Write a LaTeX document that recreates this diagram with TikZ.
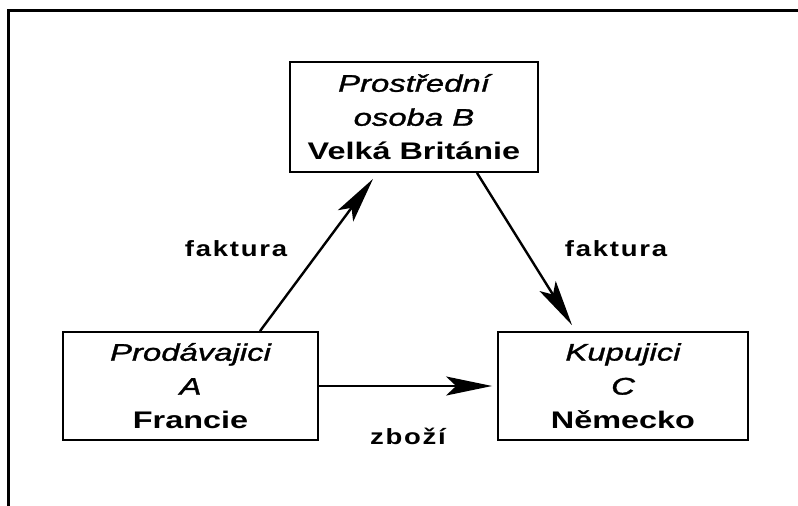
\documentclass[tikz,border=0pt]{standalone}
\usepackage{fontspec}
\usetikzlibrary{arrows.meta,positioning}
\setmainfont{Liberation Sans}
\newfontfamily\wideface[FakeStretch=1.35]{Liberation Sans}
\newfontfamily\wideslant[FakeStretch=1.37, FakeBold=1.3]{Liberation Sans Italic}
\newfontfamily\spacedface[FakeStretch=1.25, LetterSpace=8]{Liberation Sans Bold}
\tikzset{
  party/.style={draw=black, line width=1.8pt, inner sep=0pt, align=center,
    font=\wideface\fontsize{24}{34}\selectfont},
  flow/.style={draw=black, line width=2.4pt,
    -{Stealth[length=46pt, width=19pt, inset=10pt]}},
  tag/.style={font=\spacedface\fontsize{22}{26}\selectfont, inner sep=0pt},
  frameline/.style={draw=black, line width=3pt}
}
\begin{document}
\begin{tikzpicture}[x=1pt, y=-1pt]
  \useasboundingbox (0,0) rectangle (798,506);
  % open frame: top and left edges
  \coordinate (fb) at (8,506);
  \coordinate (fc) at (8,10);
  \coordinate (fr) at (798,10);
  \draw[frameline] (fb) -- (fc) -- (fr);

  % the three parties
  \node[party, minimum width=248pt, minimum height=110pt] (B) at (414,117)
    {\wideslant Prostřední\\ \wideslant osoba B\\ \bfseries Velká Británie};
  \node[party, minimum width=255pt, minimum height=108pt] (A) at (190.5,386)
    {\wideslant Prodávajici\\ \wideslant A\\ \bfseries Francie};
  \node[party, minimum width=250pt, minimum height=108pt] (C) at (623,386)
    {\wideslant Kupujici\\ \wideslant C\\ \bfseries Německo};

  % invoices and goods
  \draw[flow] ([xshift=69.5pt]A.north) -- ([xshift=-41pt, yshift=-6pt]B.south);
  \draw[flow] ([xshift=63pt]B.south) -- ([xshift=-51pt, yshift=6pt]C.north);
  \draw[flow] (A.east) -- ([xshift=-5pt]C.west);

  \node[tag] (f1) at (236,249) {faktura};
  \node[tag] (f2) at (616,249) {faktura};
  \node[tag] (g) at (408,436) {zboží};
\end{tikzpicture}
\end{document}
